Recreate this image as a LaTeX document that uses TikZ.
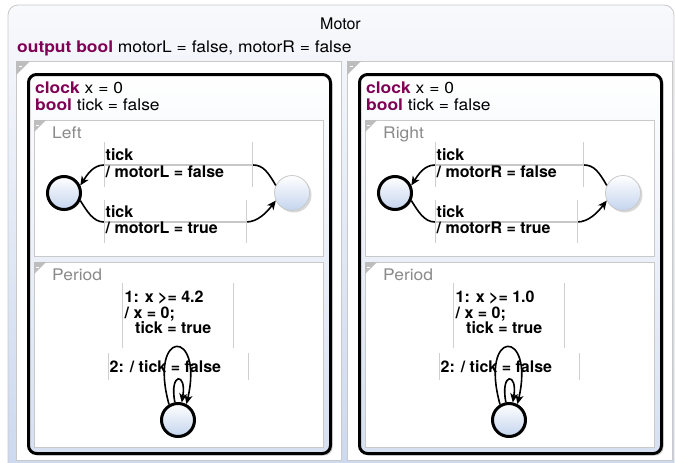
\documentclass[tikz,border=0pt]{standalone}
\usepackage{fontspec}
\setmainfont{TeX Gyre Heros}
\newfontfamily\declfont[FakeStretch=1.09]{TeX Gyre Heros}
\usetikzlibrary{arrows.meta,shadows}
\definecolor{kw}{HTML}{7F0055}
\definecolor{framebot}{HTML}{CAD7EE}
\definecolor{frametop}{HTML}{F8F9FC}
\definecolor{lineg}{HTML}{C9C9C9}
\definecolor{labg}{HTML}{8A8A8A}
\definecolor{trig}{HTML}{BDBDBD}
\definecolor{statebot}{HTML}{C4D4EE}
\definecolor{macrobot}{HTML}{D6E0F1}
\definecolor{boxl}{HTML}{CFCFCF}
\tikzset{
  txt/.style={anchor=base west, inner sep=0pt, font=\fontsize{16}{17}\selectfont},
  dtxt/.style={anchor=base west, inner sep=0pt, font=\declfont\fontsize{16}{17}\selectfont},
  btxt/.style={anchor=base west, inner sep=0pt, font=\fontsize{16}{17}\selectfont\bfseries},
  gtxt/.style={anchor=base west, inner sep=0pt, text=labg, font=\declfont\fontsize{16}{17}\selectfont},
  frame/.style={draw=lineg, line width=0.8pt, rounded corners=10pt, top color=frametop, bottom color=framebot},
  panel/.style={draw=lineg, line width=0.8pt, fill=white, anchor=north west, inner sep=0pt},
  region/.style={draw=lineg, line width=0.8pt, fill=white, anchor=north west, inner sep=0pt},
  macro/.style={draw=black, line width=3pt, rounded corners=8pt, anchor=north west, inner sep=0pt,
     top color=white, bottom color=macrobot,
     drop shadow={shadow xshift=2pt, shadow yshift=-2pt, opacity=0.35}},
  initstate/.style={circle, draw=black, line width=3pt, minimum size=33pt, inner sep=0pt,
     top color=white, bottom color=statebot,
     drop shadow={shadow xshift=1.5pt, shadow yshift=-1.5pt, opacity=0.3}},
  simplestate/.style={circle, draw=lineg, line width=0.8pt, minimum size=35pt, inner sep=0pt,
     top color=white, bottom color=statebot,
     drop shadow={shadow xshift=2pt, shadow yshift=-2pt, opacity=0.3}},
  edge/.style={line width=1.6pt, -{Stealth[length=9pt,width=8pt,inset=2.5pt]}},
  lbox/.style={fill=white, fill opacity=0.78, anchor=north west, inner sep=0pt},
  sideline/.style={draw=boxl, line width=0.8pt},
  corner/.style={fill=trig},
  dashmark/.style={draw=white, line width=0.9pt},
}
\newcommand\motorhalf[3]{%
  \node[panel, minimum width=325pt, minimum height=399pt] (panel) at (16,61) {};
  \fill[corner] (panel.north west) -- ++(14,0) -- ++(-14,14) -- cycle;
  \draw[dashmark] (18.5,66) -- (21.5,66);
  \node[macro, minimum width=302pt, minimum height=379pt] (macro) at (27,73) {};
  \node[region, minimum width=289pt, minimum height=136pt] (reg1) at (34,120) {};
  \fill[corner] (reg1.north west) -- ++(12,0) -- ++(-12,12) -- cycle;
  \draw[dashmark] (36,125) -- (38.5,125);
  \node[region, minimum width=289pt, minimum height=185pt] (reg2) at (34,262) {};
  \fill[corner] (reg2.north west) -- ++(12,0) -- ++(-12,12) -- cycle;
  \draw[dashmark] (36,267) -- (38.5,267);
  \node[dtxt] (d1) at (35,93) {{\bfseries\color{kw}clock} x = 0};
  \node[dtxt] (d2) at (35,110) {{\bfseries\color{kw}bool} tick = false};
  \node[gtxt] (r1name) at (52,138) {#1};
  \node[gtxt] (r2name) at (52,280) {Period};
  % states of first region
  \node[initstate] (I) at (64,193) {};
  \node[simplestate] (S) at (292,193) {};
  \draw[edge] (S.155) .. controls (268,172) and (263,165) .. (253,165) -- (104,165)
     .. controls (93,165) and (87,175) .. (I.25);
  \draw[edge] (I.-25) .. controls (87,211) and (93,222) .. (104,222) -- (246,222)
     .. controls (258,222) and (267,212) .. (S.-155);
  \node[lbox, minimum width=148pt, minimum height=45pt] (lb1) at (104,142) {};
  \draw[sideline] (lb1.north west) -- (lb1.south west) (lb1.north east) -- (lb1.south east);
  \node[btxt] (l1a) at (105.5,160) {tick};
  \node[btxt] (l1b) at (105.5,177) {/ #2 = false};
  \node[lbox, minimum width=142pt, minimum height=43pt] (lb2) at (104,200) {};
  \draw[sideline] (lb2.north west) -- (lb2.south west) (lb2.north east) -- (lb2.south east);
  \node[btxt] (l2a) at (105.5,217) {tick};
  \node[btxt] (l2b) at (105.5,233) {/ #2 = true};
  % period region
  \node[initstate] (P) at (178,420) {};
  \node[lbox, minimum width=111pt, minimum height=65pt] (lb3) at (122,283) {};
  \draw[sideline] (lb3.north west) -- (lb3.south west) (lb3.north east) -- (lb3.south east);
  \node[btxt] (l3a) at (124.5,302) {1: x >= #3};
  \node[btxt] (l3b) at (124.5,318) {/ x = 0;};
  \node[btxt] (l3c) at (135,333) {tick = true};
  \node[lbox, minimum width=140pt, minimum height=27pt] (lb4) at (108,353) {};
  \draw[sideline] (lb4.north west) -- (lb4.south west) (lb4.north east) -- (lb4.south east);
  \node[btxt] (l4a) at (109.5,372) {2: / tick = false};
  \draw[edge] (P.120) .. controls (148,328) and (204,328) .. (P.62);
  \draw[edge] (P.100) .. controls (169,372) and (187,372) .. (P.78);
}
\begin{document}
\begin{tikzpicture}[x=1pt,y=-1pt]
\useasboundingbox (0,0) rectangle (675,463);
\draw[frame] (8,5) rectangle (674,490);
\node[txt, anchor=base] (title) at (340.5,29) {Motor};
\node[dtxt] (outdecl) at (17,52) {{\bfseries\color{kw}output bool} motorL = false, motorR = false};
\begin{scope}[name prefix=L-]
  \motorhalf{Left}{motorL}{4.2}
\end{scope}
\begin{scope}[xshift=331pt, name prefix=R-]
  \motorhalf{Right}{motorR}{1.0}
\end{scope}
\end{tikzpicture}
\end{document}
